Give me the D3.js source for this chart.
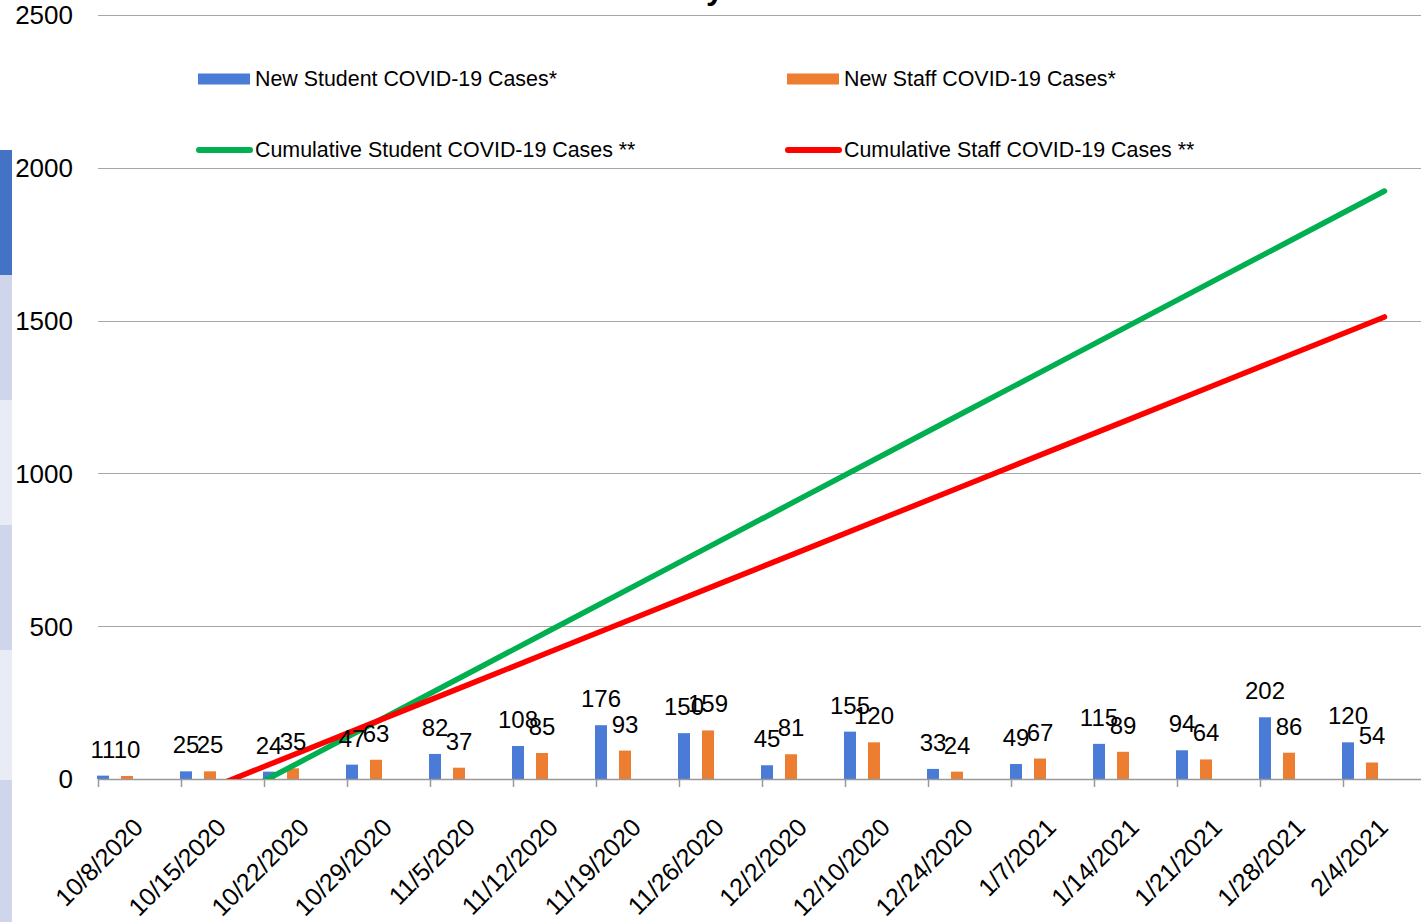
<!DOCTYPE html>
<html>
<head>
<meta charset="utf-8">
<script src="https://cdn.jsdelivr.net/npm/d3@7"></script>
<style>
  html, body { margin: 0; padding: 0; background: #fff; }
  svg { display: block; font-family: "Liberation Sans", Arial, sans-serif; }
</style>
</head>
<body>
<svg id="chart" width="1421" height="922"></svg>
<script>
// ---- data ----
const categories = ["10/8/2020","10/15/2020","10/22/2020","10/29/2020","11/5/2020","11/12/2020",
  "11/19/2020","11/26/2020","12/2/2020","12/10/2020","12/24/2020","1/7/2021","1/14/2021",
  "1/21/2021","1/28/2021","2/4/2021"];
const newStudent = [11, 25, 24, 47, 82, 108, 176, 150, 45, 155, 33, 49, 115, 94, 202, 120];
const newStaff   = [10, 25, 35, 63, 37, 85, 93, 159, 81, 120, 24, 67, 89, 64, 86, 54];
// cumulative lines as drawn (straight, partly below the axis minimum)
const cumStudent = [-221, -78, 65, 208, 351, 494, 637, 780, 923, 1066, 1209, 1352, 1495, 1638, 1781, 1924];
const cumStaff   = [-123, -14, 95, 204, 313, 422, 531, 640, 749, 858, 967, 1076, 1185, 1294, 1403, 1512];
const yTicks = [0, 500, 1000, 1500, 2000, 2500];
const seriesNames = ["New Student COVID-19 Cases*", "New Staff COVID-19 Cases*",
  "Cumulative Student COVID-19 Cases **", "Cumulative Staff COVID-19 Cases **"];
const titleText = "Student and Staff COVID-19 Cases by Week";

// ---- styles ----
const C_BLUE = "#4a7bd6", C_ORANGE = "#ed7d31", C_GREEN = "#00b050", C_RED = "#ff0000";
const GRID = "#a6a6a6";

const svg = d3.select("#chart");
const W = 1421, H = 922;
const left = 98, plotTop = 15, plotBottom = 779;

// left decorative stripe (neighbouring slide element)
const stripe = [
  {y0: 150, y1: 275, c: "#4472c4"},
  {y0: 275, y1: 400, c: "#cfd5ea"},
  {y0: 400, y1: 525, c: "#e9ebf5"},
  {y0: 525, y1: 650, c: "#cfd5ea"},
  {y0: 650, y1: 780, c: "#e9ebf5"},
  {y0: 780, y1: 922, c: "#cfd5ea"}
];
svg.append("g").selectAll("rect").data(stripe).join("rect")
  .attr("x", 0).attr("width", 12)
  .attr("y", d => d.y0).attr("height", d => d.y1 - d.y0)
  .attr("fill", d => d.c);

const x = d3.scaleBand().domain(categories).range([left, left + 83 * categories.length]).paddingInner(0).paddingOuter(0);
const xSub = d3.scaleBand().domain(["student", "staff"]).range([-1, 35]).paddingInner(0.5).paddingOuter(0);
const y = d3.scaleLinear().domain([0, 2500]).range([plotBottom, plotTop]);

// title (mostly above the visible area; only the descender of "y" shows)
const title = svg.append("text")
  .attr("y", -1)
  .attr("font-size", 32).attr("font-weight", "bold").attr("fill", "#000")
  .text(titleText);
{
  const idx = titleText.indexOf("y");
  const p = title.node().getStartPositionOfChar(idx);
  title.attr("x", 706 - p.x);
}

// gridlines
svg.append("g").selectAll("line").data(yTicks.filter(t => t > 0)).join("line")
  .attr("x1", left).attr("x2", W)
  .attr("y1", d => Math.round(y(d)) + 0.5).attr("y2", d => Math.round(y(d)) + 0.5)
  .attr("stroke", GRID).attr("stroke-width", 1.2);

// y labels
svg.append("g").selectAll("text").data(yTicks).join("text")
  .attr("x", 73).attr("y", d => y(d))
  .attr("dy", "0.36em")
  .attr("text-anchor", "end")
  .attr("font-size", 26).attr("fill", "#000")
  .text(d => d);

// bars
const barG = svg.append("g");
barG.selectAll("rect.s").data(categories).join("rect")
  .attr("class", "s")
  .attr("x", (c) => x(c) + xSub("student"))
  .attr("width", xSub.bandwidth())
  .attr("y", (c, i) => y(newStudent[i]))
  .attr("height", (c, i) => y(0) - y(newStudent[i]))
  .attr("fill", C_BLUE);
barG.selectAll("rect.t").data(categories).join("rect")
  .attr("class", "t")
  .attr("x", (c) => x(c) + xSub("staff"))
  .attr("width", xSub.bandwidth())
  .attr("y", (c, i) => y(newStaff[i]))
  .attr("height", (c, i) => y(0) - y(newStaff[i]))
  .attr("fill", C_ORANGE);

// x axis line and ticks
svg.append("line")
  .attr("x1", left).attr("x2", W)
  .attr("y1", plotBottom + 0.5).attr("y2", plotBottom + 0.5)
  .attr("stroke", "#999").attr("stroke-width", 1.5);
svg.append("g").selectAll("line").data(categories).join("line")
  .attr("x1", c => x(c) + 0.5).attr("x2", c => x(c) + 0.5)
  .attr("y1", plotBottom).attr("y2", plotBottom + 8)
  .attr("stroke", "#999").attr("stroke-width", 1.5);

// lines (clipped to plot area)
svg.append("defs").append("clipPath").attr("id", "plotClip")
  .append("rect").attr("x", left).attr("y", plotTop).attr("width", W - left).attr("height", plotBottom - plotTop);
const lineGen = d3.line()
  .x((d, i) => x(categories[i]) + x.bandwidth() / 2)
  .y(d => y(d));
const lg = svg.append("g").attr("clip-path", "url(#plotClip)");
lg.append("path").datum(cumStudent).attr("d", lineGen)
  .attr("fill", "none").attr("stroke", C_GREEN).attr("stroke-width", 5.5).attr("stroke-linecap", "round");
lg.append("path").datum(cumStaff).attr("d", lineGen)
  .attr("fill", "none").attr("stroke", C_RED).attr("stroke-width", 5.5).attr("stroke-linecap", "round");

// data labels
const labG = svg.append("g").attr("font-size", 24).attr("fill", "#000").attr("text-anchor", "middle");
labG.selectAll("text.s").data(categories).join("text")
  .attr("class", "s")
  .attr("x", c => x(c) + xSub("student") + xSub.bandwidth() / 2)
  .attr("y", (c, i) => y(newStudent[i]) - 18)
  .text((c, i) => newStudent[i]);
labG.selectAll("text.t").data(categories).join("text")
  .attr("class", "t")
  .attr("x", c => x(c) + xSub("staff") + xSub.bandwidth() / 2)
  .attr("y", (c, i) => y(newStaff[i]) - 18)
  .text((c, i) => newStaff[i]);

// x labels rotated
svg.append("g").selectAll("text").data(categories).join("text")
  .attr("transform", c => `translate(${x(c) + x.bandwidth() / 2 + 5},${829}) rotate(-45)`)
  .attr("text-anchor", "end")
  .attr("font-size", 25).attr("fill", "#000")
  .text(c => c);

// legend
const legendItems = [
  {name: seriesNames[0], type: "bar", color: C_BLUE, x: 198, y: 79},
  {name: seriesNames[1], type: "bar", color: C_ORANGE, x: 787, y: 79},
  {name: seriesNames[2], type: "line", color: C_GREEN, x: 198, y: 150},
  {name: seriesNames[3], type: "line", color: C_RED, x: 787, y: 150}
];
const leg = svg.append("g");
legendItems.forEach(it => {
  if (it.type === "bar") {
    leg.append("rect").attr("x", it.x).attr("y", it.y - 5.5).attr("width", 52).attr("height", 11).attr("fill", it.color);
  } else {
    leg.append("line").attr("x1", it.x + 1).attr("x2", it.x + 52).attr("y1", it.y).attr("y2", it.y)
      .attr("stroke", it.color).attr("stroke-width", 6).attr("stroke-linecap", "round");
  }
  leg.append("text").attr("x", it.x + 57).attr("y", it.y + 7)
    .attr("font-size", 21.4).attr("fill", "#000").text(it.name);
});
</script>
</body>
</html>
